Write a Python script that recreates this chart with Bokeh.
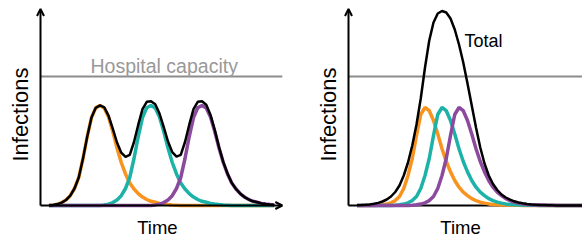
import math
from bokeh.plotting import figure
from bokeh.layouts import row
from bokeh.models import Arrow, OpenHead, Label, ColumnDataSource, Range1d
from bokeh.embed import file_html
from bokeh.resources import INLINE

# ---------------- data ----------------
days = list(range(2, 56))  # time axis, same grid in both panels

# Left panel: three successive waves and their total
orange_left = [0.1, 0.6, 1.4, 2.9, 5.5, 9.8, 17, 28, 47, 69, 88, 97.7, 100, 97.5, 88.5, 74, 57.5, 43,
               31.6, 22.6, 16.5, 11.8, 8.4, 6, 4.2, 3.2, 2.1, 1.5, 1.0, 0.6, 0.3,
               0, 0, 0, 0, 0, 0, 0, 0, 0, 0, 0, 0, 0, 0, 0, 0, 0, 0, 0, 0, 0, 0, 0]
teal_left = [0, 0, 0, 0, 0, 0, 0, 0, 0, 0, 0, 0,
             0.1, 0.6, 1.4, 2.9, 5.5, 9.8, 17, 28, 47, 69, 88, 97.7, 100, 97.5, 88.5, 74, 57.5, 43,
             31.6, 22.6, 16.5, 11.8, 8.4, 6, 4.2, 3.2, 2.1, 1.5, 1.0, 0.6, 0.3,
             0, 0, 0, 0, 0, 0, 0, 0, 0, 0, 0]
purple_left = [0, 0, 0, 0, 0, 0, 0, 0, 0, 0, 0, 0, 0, 0, 0, 0, 0, 0, 0, 0, 0, 0, 0, 0,
               0.1, 0.6, 1.4, 2.9, 5.5, 9.8, 17, 28, 47, 69, 88, 97.7, 100, 97.5, 88.5, 74, 57.5, 43,
               31.6, 22.6, 16.5, 11.8, 8.4, 6, 4.2, 3.2, 2.1, 1.5, 1.0, 0.6]
total_left = [0.1, 0.6, 1.4, 2.9, 5.5, 9.8, 17, 28, 47, 69,
              88, 97.7, 100.1, 98.1, 89.9, 76.9, 63, 52.8, 48.6, 50.6,
              63.5, 80.8, 96.4, 103.7, 104.3, 101.3, 92, 78.4, 64, 53.4,
              48.9, 50.6, 63.5, 80.8, 96.4, 103.7, 104.2, 100.7, 90.6, 75.5,
              58.5, 43.6, 31.9, 22.6, 16.5, 11.8, 8.4, 6, 4.2, 3.2,
              2.1, 1.5, 1.0, 0.6]

# Right panel: three overlapping waves and their total
orange_right = [0, 0, 0, 0, 0,
                0.3, 0.7, 1.4, 2.7, 4.9, 9, 17, 30, 47, 70, 91, 98, 94.8, 85, 71.5, 56.8, 44, 33.6, 25,
                18.3, 13.3, 9.9, 6.8, 4.9, 3.4, 2.4, 1.6, 1.1, 0.8, 0.6, 0.45, 0.35, 0.25, 0.2,
                0, 0, 0, 0, 0, 0, 0, 0, 0, 0, 0, 0, 0, 0, 0]
teal_right = [0, 0, 0, 0, 0, 0, 0, 0, 0,
              0.3, 0.7, 1.4, 2.7, 4.9, 9, 17, 30, 47, 70, 91, 98, 94.8, 85, 71.5, 56.8, 44, 33.6, 25,
              18.3, 13.3, 9.9, 6.8, 4.9, 3.4, 2.4, 1.6, 1.1, 0.8, 0.6, 0.45, 0.35, 0.25, 0.2,
              0, 0, 0, 0, 0, 0, 0, 0, 0, 0, 0]
purple_right = [0, 0, 0, 0, 0, 0, 0, 0, 0, 0, 0, 0, 0,
                0.3, 0.7, 1.4, 2.7, 4.9, 9, 17, 30, 47, 70, 91, 98, 94.8, 85, 71.5, 56.8, 44, 33.6, 25,
                18.3, 13.3, 9.9, 6.8, 4.9, 3.4, 2.4, 1.6, 1.1, 0.8, 0.6, 0.45, 0.35, 0.25, 0.2,
                0, 0, 0, 0, 0, 0, 0]
total_right = [0.2, 0.4, 0.7, 1.1, 1.7, 2.6, 4, 6, 9, 13.5,
               20, 30, 43, 60, 81, 107, 138, 165, 183, 192,
               194.5, 193, 187, 176, 161, 143, 122, 100, 78, 58,
               42, 30, 21.5, 15.5, 11, 8, 5.8, 4.2, 3, 2.2,
               1.6, 1.1, 0.8, 0.55, 0.4, 0.25, 0.15, 0.1, 0, 0,
               0, 0, 0, 0]

hospital_capacity = 129
x_label = "Time"
y_label = "Infections"
capacity_label = "Hospital capacity"
total_label = "Total"

ORANGE = "#F7931E"
TEAL = "#1DB2A8"
PURPLE = "#8B4A9E"
GRAY = "#8C8C8C"
FONT = "Liberation Sans"


def make_panel(x0, x1, x_axis_end, arrow_x):
    p = figure(width=291, height=242, output_backend="svg", toolbar_location=None,
               x_range=Range1d(x0, x1), y_range=Range1d(-37, 205),
               x_axis_location=None, y_axis_location=None, min_border=0,
               background_fill_color="white", border_fill_color="white")
    p.outline_line_color = None
    p.grid.visible = False
    # axes drawn as arrows
    p.add_layout(Arrow(end=OpenHead(size=7, line_width=2, line_color="black"),
                       x_start=0, y_start=0, x_end=0, y_end=196.5,
                       line_width=2, line_color="black"))
    if arrow_x:
        p.add_layout(Arrow(end=OpenHead(size=7, line_width=2, line_color="black"),
                           x_start=0, y_start=0, x_end=x_axis_end, y_end=0,
                           line_width=2, line_color="black"))
    else:
        p.line([0, x_axis_end], [0, 0], line_width=2, line_color="black")
    p.line([0, x_axis_end], [hospital_capacity, hospital_capacity], line_width=2, line_color=GRAY)
    p.add_layout(Label(x=-4.6, y=91, text=y_label, angle=math.pi / 2, text_align="center",
                       text_baseline="middle", text_font=FONT, text_font_size="22px",
                       text_color="black"))
    return p


p1 = make_panel(-9.4118, 59.0588, 56.9, True)
src1 = ColumnDataSource(dict(t=days, o=orange_left, c=teal_left, v=purple_left, s=total_left))
p1.line("t", "o", source=src1, line_width=3.5, line_color=ORANGE)
p1.line("t", "c", source=src1, line_width=3.5, line_color=TEAL)
p1.line("t", "v", source=src1, line_width=3.5, line_color=PURPLE)
p1.line("t", "s", source=src1, line_width=2.5, line_color="black")
p1.add_layout(Label(x=11.76, y=139.5, text=capacity_label, text_align="left",
                    text_baseline="alphabetic", text_font=FONT, text_font_size="19.5px",
                    text_color="#999999"))
p1.add_layout(Label(x=27.5, y=-22, text=x_label, text_align="center",
                    text_baseline="middle", text_font=FONT, text_font_size="18.5px",
                    text_color="black"))

p2 = make_panel(-13.4118, 55.0588, 56.0, False)
src2 = ColumnDataSource(dict(t=days, o=orange_right, c=teal_right, v=purple_right, s=total_right))
p2.line("t", "o", source=src2, line_width=3.5, line_color=ORANGE)
p2.line("t", "c", source=src2, line_width=3.5, line_color=TEAL)
p2.line("t", "v", source=src2, line_width=3.5, line_color=PURPLE)
p2.line("t", "s", source=src2, line_width=2.5, line_color="black")
p2.add_layout(Label(x=27.3, y=165, text=total_label, text_align="left",
                    text_baseline="alphabetic", text_font=FONT, text_font_size="18px",
                    text_color="black"))
p2.add_layout(Label(x=26.35, y=-22, text=x_label, text_align="center",
                    text_baseline="middle", text_font=FONT, text_font_size="18.5px",
                    text_color="black"))

layout = row(p1, p2)
open("out.html", "w").write(file_html(layout, INLINE))
